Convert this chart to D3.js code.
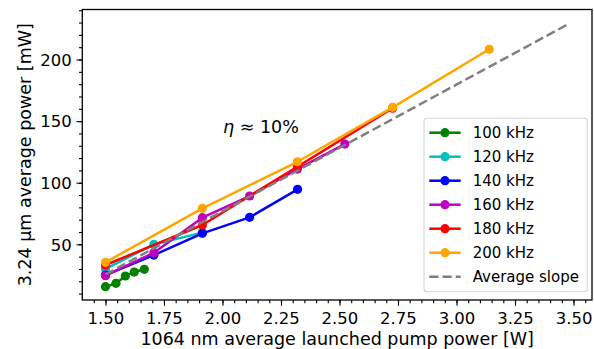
<!DOCTYPE html>
<html><head><meta charset="utf-8">
<script src="https://cdn.jsdelivr.net/npm/d3@7"></script>
<style>body{margin:0;background:#fff}svg{display:block;font-family:"DejaVu Sans",sans-serif}</style>
</head><body><svg id="c" width="594" height="349"></svg>
<script>
const seriesNames = ["100 kHz","120 kHz","140 kHz","160 kHz","180 kHz","200 kHz"];
const seriesColors = ["#008000","#00bfbf","#0000ff","#bf00bf","#ff0000","#ffa500"];
const x100 = [1.50,1.545,1.585,1.623,1.666], y100 = [15.6,18.3,24.3,27.5,29.7];
const x120 = [1.50,1.707,1.914], y120 = [30.0,50.0,59.5];
const x140 = [1.50,1.707,1.914,2.116,2.321], y140 = [25.0,41.3,58.9,71.9,94.6];
const x160 = [1.50,1.707,1.914,2.116,2.320,2.523], y160 = [24.5,43.2,71.6,89.2,111.1,131.4];
const x180 = [1.50,1.914,2.320,2.727], y180 = [33.2,65.7,113.0,160.5];
const x200 = [1.50,1.914,2.320,2.727,3.140], y200 = [35.4,79.2,117.0,161.2,208.3];
const xSlope = [1.50,3.48], ySlope = [25.5,229.0];
const xTicks = [1.50,1.75,2.00,2.25,2.50,2.75,3.00,3.25,3.50];
const yTicks = [50,100,150,200];
const xLabel = "1064 nm average launched pump power [W]";
const yLabel = "3.24 μm average power [mW]";
const annot = "10%";

const svg = d3.select("#c");
const L=82.3,R=592,T=9.5,B=300;
const x = d3.scaleLinear().domain([1.401,3.579]).range([L,R]);
const y = d3.scaleLinear().domain([4.8,240.6]).range([B,T]);

const xs=[x100,x120,x140,x160,x180,x200], ys=[y100,y120,y140,y160,y180,y200];
const line = d3.line().x(d=>x(d[0])).y(d=>y(d[1]));

// axes
const xMinor = d3.range(1.45,3.58,0.05).filter(v=>v>1.401&&v<3.579);
const yMinor = d3.range(10,241,10);
const gx = svg.append("g").attr("transform",`translate(0,${B})`);
gx.call(d3.axisBottom(x).tickValues(xMinor).tickSize(3.3).tickFormat(""));
gx.append("g").call(d3.axisBottom(x).tickValues(xTicks).tickSize(5.8).tickPadding(5).tickFormat(d3.format(".2f")));
const gy = svg.append("g").attr("transform",`translate(${L},0)`);
gy.call(d3.axisLeft(y).tickValues(yMinor).tickSize(3.3).tickFormat(""));
gy.append("g").call(d3.axisLeft(y).tickValues(yTicks).tickSize(5.8).tickPadding(5).tickFormat(d3.format("d")));
svg.selectAll(".domain").remove();
svg.selectAll(".tick line").attr("stroke","#000").attr("stroke-width",1.1);
svg.selectAll(".tick text").attr("font-size",16.5).attr("fill","#000").attr("font-family","DejaVu Sans");
gx.selectAll(".tick text").attr("dy",null).attr("y",null).attr("transform","translate(0,23.5)");
gy.selectAll(".tick text").attr("x",-10.5).attr("dy","0.35em");

// data
xs.forEach((xa,i)=>{
  const pts = xa.map((v,j)=>[v,ys[i][j]]);
  const g = svg.append("g");
  g.append("path").attr("d",line(pts)).attr("fill","none").attr("stroke",seriesColors[i]).attr("stroke-width",2.5).attr("stroke-linejoin","round");
  g.selectAll("circle").data(pts).join("circle").attr("cx",d=>x(d[0])).attr("cy",d=>y(d[1])).attr("r",4.6).attr("fill",seriesColors[i]);
});
svg.append("path").attr("d",line(xSlope.map((v,j)=>[v,ySlope[j]]))).attr("fill","none")
  .attr("stroke","#808080").attr("stroke-width",2.5).attr("stroke-dasharray","9.2,4");

// frame
svg.append("rect").attr("x",L).attr("y",T).attr("width",R-L).attr("height",B-T).attr("fill","none").attr("stroke","#000").attr("stroke-width",1.3);

// labels
svg.append("text").attr("x",(L+R)/2).attr("y",344.5).attr("text-anchor","middle").attr("font-size",17.5).text(xLabel);
svg.append("text").attr("transform",`translate(31,${(T+B)/2}) rotate(-90)`).attr("text-anchor","middle").attr("font-size",17.5).text(yLabel);
const an = svg.append("text").attr("x",223).attr("y",133).attr("font-size",17.5);
an.append("tspan").attr("font-style","italic").text("η");
an.append("tspan").text(" ≈  "+annot);

// legend
const lg = svg.append("g");
lg.append("rect").attr("x",424).attr("y",118.3).attr("width",163.3).attr("height",173.4).attr("rx",3)
  .attr("fill","#fff").attr("fill-opacity",0.8).attr("stroke","#cccccc").attr("stroke-opacity",0.8).attr("stroke-width",1.1);
const names = seriesNames.concat(["Average slope"]);
names.forEach((n,i)=>{
  const cy = 132.7 + i*24;
  if(i<6){
    lg.append("line").attr("x1",429.3).attr("x2",460.7).attr("y1",cy).attr("y2",cy).attr("stroke",seriesColors[i]).attr("stroke-width",2.5);
    lg.append("circle").attr("cx",445).attr("cy",cy).attr("r",4.6).attr("fill",seriesColors[i]);
  } else {
    lg.append("line").attr("x1",429.3).attr("x2",460.7).attr("y1",cy).attr("y2",cy).attr("stroke","#808080").attr("stroke-width",2.5).attr("stroke-dasharray","9.2,4");
  }
  lg.append("text").attr("x",472.7).attr("y",cy+5.4).attr("font-size",15).attr("fill","#000").text(n);
});
</script></body></html>
